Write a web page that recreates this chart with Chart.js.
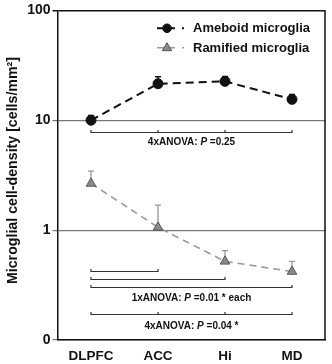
<!DOCTYPE html>
<html>
<head>
<meta charset="utf-8">
<script src="https://cdn.jsdelivr.net/npm/chart.js@4.4.1/dist/chart.umd.min.js"></script>
<style>
  html, body { margin: 0; padding: 0; background: #fff; }
  #wrap { width: 332px; height: 364px; }
</style>
</head>
<body>
<div id="wrap"><canvas id="densityChart" width="332" height="364"></canvas></div>
<script>
// regions and cell densities (cells/mm2), mean and top of error bar
var categories = ['DLPFC', 'ACC', 'Hi', 'MD'];
var ameboidMean = [10.0, 21.5, 22.6, 15.5];
var ameboidUpper = [11.1, 24.9, 25.1, 17.2];
var ramifiedMean = [2.66, 1.06, 0.52, 0.42];
var ramifiedUpper = [3.44, 1.69, 0.65, 0.52];
var yTicks = [0.1, 1, 10, 100];
var yTickLabels = ['0', '1', '10', '100'];

// significance brackets: category indexes and the density level they sit at
var brackets = [
    { from: 0, to: 3, at: 7.88, mids: [1, 2] },
    { from: 0, to: 1, at: 0.425, mids: [] },
    { from: 0, to: 2, at: 0.357, mids: [] },
    { from: 0, to: 3, at: 0.304, mids: [] },
    { from: 0, to: 3, at: 0.172, mids: [1, 2] }
];
var statNotes = [
    { pre: '4xANOVA: ', p: 'P', post: ' =0.25', at: 6.27 },
    { pre: '1xANOVA: ', p: 'P', post: ' =0.01 * each', at: 0.238 },
    { pre: '4xANOVA: ', p: 'P', post: ' =0.04 *', at: 0.134 }
];

var FONT = '"Liberation Sans", Arial, Helvetica, sans-serif';

function marker(ctx, ds, cx, cy, r) {
    ctx.fillStyle = ds.pointBackgroundColor;
    ctx.strokeStyle = ds.pointBorderColor;
    ctx.lineWidth = ds.pointBorderWidth;
    ctx.beginPath();
    if (ds.pointStyle === 'circle') {
        ctx.arc(cx, cy, r, 0, Math.PI * 2);
    } else {
        ctx.moveTo(cx, cy - r);
        ctx.lineTo(cx + r * 0.95, cy + r * 0.6);
        ctx.lineTo(cx - r * 0.95, cy + r * 0.6);
        ctx.closePath();
    }
    ctx.fill();
    ctx.stroke();
}

var extras = {
    id: 'extras',
    beforeDatasetsDraw: function (chart) {
        var ctx = chart.ctx, x = chart.scales.x, y = chart.scales.y;
        var sets = [[ameboidMean, ameboidUpper, '#111'], [ramifiedMean, ramifiedUpper, '#999']];
        ctx.save();
        sets.forEach(function (s) {
            ctx.strokeStyle = s[2];
            ctx.lineWidth = 1.3;
            s[0].forEach(function (m, i) {
                var px = x.getPixelForValue(i);
                var y0 = y.getPixelForValue(m), y1 = y.getPixelForValue(s[1][i]);
                ctx.beginPath();
                ctx.moveTo(px, y0);
                ctx.lineTo(px, y1);
                ctx.moveTo(px - 3, y1);
                ctx.lineTo(px + 3, y1);
                ctx.stroke();
            });
        });
        ctx.restore();
    },
    afterDraw: function (chart) {
        var ctx = chart.ctx, x = chart.scales.x, y = chart.scales.y, a = chart.chartArea;
        ctx.save();
        // right frame line
        ctx.strokeStyle = '#111';
        ctx.lineWidth = 1.5;
        ctx.beginPath();
        ctx.moveTo(a.right - 0.5, a.top);
        ctx.lineTo(a.right - 0.5, a.bottom);
        ctx.stroke();

        // y axis title
        ctx.save();
        ctx.translate(13.5, 170.5);
        ctx.rotate(-Math.PI / 2);
        ctx.fillStyle = '#111';
        ctx.font = 'bold 14.2px ' + FONT;
        ctx.textAlign = 'center';
        ctx.textBaseline = 'middle';
        ctx.fillText('Microglial cell-density [cells/mm²]', 0, 0);
        ctx.restore();

        // brackets
        ctx.strokeStyle = '#333';
        ctx.lineWidth = 1.2;
        brackets.forEach(function (b) {
            var py = Math.round(y.getPixelForValue(b.at)) + 0.5;
            var x0 = x.getPixelForValue(b.from), x1 = x.getPixelForValue(b.to);
            ctx.beginPath();
            ctx.moveTo(x0, py - 2.5);
            ctx.lineTo(x0, py);
            ctx.lineTo(x1, py);
            ctx.lineTo(x1, py - 2.5);
            b.mids.forEach(function (m) {
                var pm = x.getPixelForValue(m);
                ctx.moveTo(pm, py);
                ctx.lineTo(pm, py - 2.5);
            });
            ctx.stroke();
        });

        // ANOVA notes, italic P
        ctx.fillStyle = '#111';
        ctx.textBaseline = 'middle';
        ctx.textAlign = 'left';
        var cx = (x.getPixelForValue(0) + x.getPixelForValue(3)) / 2;
        statNotes.forEach(function (n) {
            var py = y.getPixelForValue(n.at);
            var bold = 'bold 10px ' + FONT, ital = 'italic bold 10px ' + FONT;
            ctx.font = bold;
            var w1 = ctx.measureText(n.pre).width, w3 = ctx.measureText(n.post).width;
            ctx.font = ital;
            var w2 = ctx.measureText(n.p).width;
            var sx = cx - (w1 + w2 + w3) / 2;
            ctx.font = bold;
            ctx.fillText(n.pre, sx, py);
            ctx.font = ital;
            ctx.fillText(n.p, sx + w1, py);
            ctx.font = bold;
            ctx.fillText(n.post, sx + w1 + w2, py);
        });

        // legend: line sample with marker, then label
        var rows = [28.3, 47.7];
        chart.data.datasets.forEach(function (ds, i) {
            var ry = rows[i];
            ctx.strokeStyle = ds.borderColor;
            ctx.lineWidth = ds.borderWidth;
            ctx.beginPath();
            [[157, 164], [170, 175], [182, 184]].forEach(function (seg) {
                ctx.moveTo(seg[0], ry);
                ctx.lineTo(seg[1], ry);
            });
            ctx.stroke();
            marker(ctx, ds, 167, ry, ds.pointStyle === 'circle' ? 4.3 : 5);
            ctx.fillStyle = '#111';
            ctx.font = 'bold 13px ' + FONT;
            ctx.textBaseline = 'middle';
            ctx.fillText(ds.label, 193, ry + 0.5);
        });
        ctx.restore();
    }
};

new Chart(document.getElementById('densityChart').getContext('2d'), {
    type: 'line',
    data: {
        labels: categories,
        datasets: [{
            label: 'Ameboid microglia',
            data: ameboidMean,
            borderColor: '#111',
            borderWidth: 2,
            borderDash: [8, 5],
            pointStyle: 'circle',
            pointRadius: 5,
            pointBackgroundColor: '#111',
            pointBorderColor: '#111',
            pointBorderWidth: 1
        }, {
            label: 'Ramified microglia',
            data: ramifiedMean,
            borderColor: '#9a9a9a',
            borderWidth: 1.6,
            borderDash: [7, 5],
            pointStyle: 'triangle',
            pointRadius: 5.5,
            pointBackgroundColor: '#8a8a8a',
            pointBorderColor: '#555',
            pointBorderWidth: 1
        }]
    },
    options: {
        responsive: false,
        animation: false,
        layout: { padding: { top: 9.3, right: 1, left: 0, bottom: 0 } },
        plugins: { legend: { display: false }, tooltip: { enabled: false } },
        scales: {
            x: {
                type: 'category',
                offset: true,
                grid: { display: false, drawTicks: false },
                border: { display: true, color: '#111', width: 1.5 },
                ticks: { color: '#111', padding: 8, font: { family: FONT, size: 13.5, weight: 'bold' } },
                afterFit: function (s) { s.height = 24; }
            },
            y: {
                type: 'logarithmic',
                min: 0.1,
                max: 100,
                afterBuildTicks: function (s) {
                    s.ticks = yTicks.map(function (v) { return { value: v }; });
                },
                grid: {
                    color: function (c) { return c.tick && c.tick.value === 100 ? '#111' : '#777'; },
                    lineWidth: function (c) { return c.tick && c.tick.value === 100 ? 1.5 : 1.2; },
                    tickLength: 5
                },
                border: { display: true, color: '#111', width: 1.5 },
                ticks: {
                    color: '#111',
                    padding: 2,
                    font: { family: FONT, size: 14, weight: 'bold' },
                    callback: function (v) { return yTickLabels[yTicks.indexOf(v)]; }
                },
                afterFit: function (s) { s.width = 57.5; }
            }
        }
    },
    plugins: [extras]
});
</script>
</body>
</html>
